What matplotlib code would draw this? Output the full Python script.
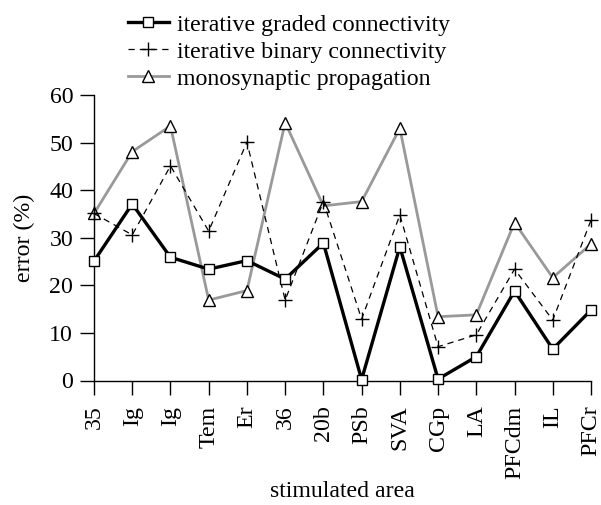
import matplotlib
matplotlib.use("Agg")
import matplotlib.pyplot as plt

areas = ["35", "Ig", "Ig", "Tem", "Er", "36", "20b", "PSb", "SVA", "CGp", "LA", "PFCdm", "IL", "PFCr"]
graded = [25.1, 37.1, 25.9, 23.4, 25.2, 21.3, 28.9, 0.2, 28.1, 0.3, 5.0, 18.8, 6.6, 14.8]
binary = [35.1, 30.6, 45.1, 31.4, 50.1, 16.9, 37.6, 12.9, 34.8, 7.1, 9.6, 23.4, 12.7, 33.7]
mono = [35.1, 48.1, 53.5, 16.9, 18.9, 54.2, 36.7, 37.6, 53.0, 13.4, 13.8, 33.2, 21.6, 28.7]
yticks = [0, 10, 20, 30, 40, 50, 60]

FS = 17.2
plt.rcParams['font.family'] = ['Liberation Serif', 'DejaVu Serif']
plt.rcParams['font.size'] = FS

fig = plt.figure(figsize=(6.01, 5.05), dpi=100)
ax = fig.add_axes([94 / 601, 1 - 380.5 / 505, (591 - 94) / 601, (380.5 - 95) / 505])
x = list(range(len(areas)))

l3, = ax.plot(x, mono, color='#999999', lw=2.0, marker='^', ms=9, mfc='white',
              mec='black', mew=1.0, clip_on=False, zorder=2, label='monosynaptic propagation')
l2, = ax.plot(x, binary, color='black', lw=0.9, ls=(0, (5, 4)), marker='+', ms=10,
              mew=1.0, clip_on=False, zorder=3, label='iterative binary connectivity')
l1, = ax.plot(x, graded, color='black', lw=2.4, marker='s', ms=7, mfc='white',
              mec='black', mew=1.0, clip_on=False, zorder=4, label='iterative graded connectivity')

ax.set_xlim(0, len(areas) - 1)
ax.set_ylim(0, 60)
ax.set_xticks(x)
ax.set_xticklabels(areas, rotation=90)
ax.set_yticks(yticks)
ax.tick_params(axis='y', direction='out', length=10, width=1, pad=5, labelsize=FS)
ax.tick_params(axis='x', direction='out', length=10, width=1, pad=8, labelsize=FS)
for s in ['top', 'right']:
    ax.spines[s].set_visible(False)
for s in ['left', 'bottom']:
    ax.spines[s].set_linewidth(1.0)
ax.set_ylabel('error (%)', fontsize=FS, labelpad=10)
ax.set_xlabel('stimulated area', fontsize=FS, labelpad=2)

fig.legend(handles=[l1, l2, l3], loc='upper left', bbox_to_anchor=(128 / 601, 1 - 14 / 505),
           frameon=False, fontsize=FS, handlelength=1.7, handletextpad=0.35,
           labelspacing=0.22, borderaxespad=0, borderpad=0)

fig.savefig('out.png', dpi=100)
